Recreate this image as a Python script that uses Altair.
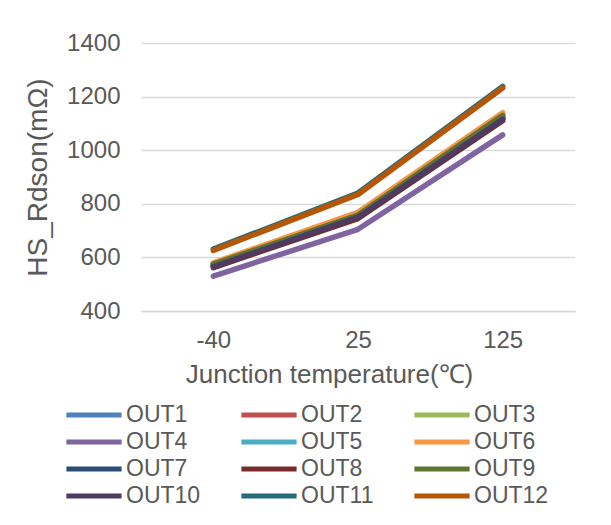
import altair as alt
import pandas as pd

temps = ["-40", "25", "125"]
series = ["OUT1", "OUT2", "OUT3", "OUT4", "OUT5", "OUT6",
          "OUT7", "OUT8", "OUT9", "OUT10", "OUT11", "OUT12"]
out1 = [575, 760, 1125]
out2 = [570, 755, 1120]
out3 = [578, 765, 1135]
out4 = [530, 705, 1057]
out5 = [575, 760, 1128]
out6 = [580, 768, 1140]
out7 = [568, 752, 1118]
out8 = [562, 745, 1110]
out9 = [575, 758, 1130]
out10 = [565, 750, 1115]
out11 = [631, 840, 1238]
out12 = [626, 835, 1232]
colors = ["#4F81BD", "#C0504D", "#9BBB59", "#8064A2", "#4BACC6", "#F79646",
          "#2C4D75", "#772C2A", "#5F7530", "#4D3B62", "#276A7C", "#B65708"]
y_ticks = [400, 600, 800, 1000, 1200, 1400]

values = [out1, out2, out3, out4, out5, out6, out7, out8, out9, out10, out11, out12]
rows = []
for i, (name, vals) in enumerate(zip(series, values)):
    for t, v in zip(temps, vals):
        rows.append({"series": name, "order": i, "temp": t, "rdson": v})
df = pd.DataFrame(rows)

FONT = "Liberation Sans"
GRAY = "#595959"

chart = alt.Chart(df).mark_line(strokeWidth=5.5, strokeCap="round", strokeJoin="round").encode(
    x=alt.X("temp:N", sort=temps,
            scale=alt.Scale(type="point", padding=0.5),
            axis=alt.Axis(title="Junction temperature(℃)", labelAngle=0, ticks=False,
                          domain=True, domainColor="#d9d9d9", domainWidth=1.5,
                          labelPadding=17, titlePadding=9, titleX=188, titleAnchor="start",
                          titleAlign="center", titleFontSize=26)),
    y=alt.Y("rdson:Q",
            scale=alt.Scale(domain=[400, 1400], nice=False, zero=False),
            axis=alt.Axis(title="HS_Rdson(mΩ)", values=y_ticks, format="d", ticks=False,
                          domain=False, gridColor="#d9d9d9", gridWidth=1.5, labelPadding=21,
                          titlePadding=14, titleFontSize=28)),
    color=alt.Color("series:N", sort=series,
                    scale=alt.Scale(domain=series, range=colors),
                    legend=alt.Legend(title=None, orient="none", legendX=-61, legendY=358,
                                      direction="horizontal", columns=3,
                                      symbolType="M-2.4,0H2.4", symbolSize=529,
                                      symbolStrokeWidth=5, labelOffset=18, columnPadding=30,
                                      rowPadding=1, labelFontSize=23, labelFont=FONT,
                                      labelColor=GRAY)),
    order=alt.Order("order:Q"),
).properties(
    width=434, height=268,
    autosize=alt.AutoSizeParams(type="none"),
    padding={"left": 133, "top": 35, "right": 28, "bottom": 206},
).configure_axis(
    labelFont=FONT, titleFont=FONT, labelFontSize=24,
    labelColor=GRAY, titleColor=GRAY, titleFontWeight="normal",
).configure_view(stroke=None)

chart.save("out.html", embed_options={"renderer": "svg", "actions": False})
